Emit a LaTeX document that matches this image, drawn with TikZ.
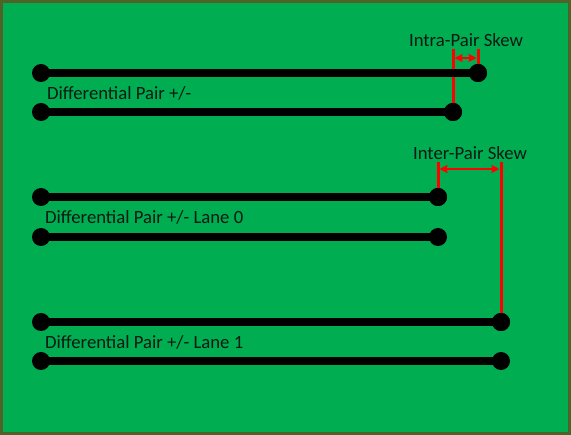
\documentclass[tikz,border=0pt]{standalone}
\usepackage{fontspec}
\setmainfont{Carlito}
\usetikzlibrary{arrows.meta}
\definecolor{pcb}{HTML}{00AD50}
\definecolor{pcbedge}{HTML}{4F6228}
\definecolor{txt}{HTML}{0A1A14}
\begin{document}
\begin{tikzpicture}[x=1pt,y=-1pt,
  pad/.style={circle,fill=black,minimum size=18pt,inner sep=0pt},
  trace/.style={line width=7.5pt,black},
  skew/.style={line width=3pt,red},
  skewarrow/.style={line width=2pt,red,shorten <=1.5pt,shorten >=1.5pt,
    {Stealth[length=8pt,width=8pt,inset=1pt]}-{Stealth[length=8pt,width=8pt,inset=1pt]}},
  lbl/.style={font=\fontsize{18.7}{20}\selectfont,text=txt,inner sep=0pt}]
\fill[pcbedge] (0,0) rectangle (571,435);
\fill[pcb] (3,3) rectangle (568,432);
\useasboundingbox (0,0) rectangle (571,435);

% intra-pair skew markers
\coordinate (c1) at (453,49);
\coordinate (c2) at (478,49);
\coordinate (a1) at (453,58);
\coordinate (a2) at (478,58);
% inter-pair skew markers
\coordinate (c3) at (438,162);
\coordinate (c4) at (501,162);
\coordinate (a3) at (438,169);
\coordinate (a4) at (501,169);

% pads
\node[pad] (p1s) at (41,73) {};
\node[pad] (p1e) at (478,73) {};
\node[pad] (p2s) at (41,112) {};
\node[pad] (p2e) at (453,112) {};
\node[pad] (l0as) at (41,197) {};
\node[pad] (l0ae) at (438,197) {};
\node[pad] (l0bs) at (41,237) {};
\node[pad] (l0be) at (438,237) {};
\node[pad] (l1as) at (41,322) {};
\node[pad] (l1ae) at (501,322) {};
\node[pad] (l1bs) at (41,361) {};
\node[pad] (l1be) at (501,361) {};

% red skew lines
\draw[skew] (c1) -- (p2e.center);
\draw[skew] (c2) -- (p1e.center);
\draw[skew] (c3) -- (l0ae.center);
\draw[skew] (c4) -- (l1ae.center);
\draw[skewarrow] (a1) -- (a2);
\draw[skewarrow] (a3) -- (a4);

% traces
\draw[trace] (p1s.center) -- (p1e.center);
\draw[trace] (p2s.center) -- (p2e.center);
\draw[trace] (l0as.center) -- (l0ae.center);
\draw[trace] (l0bs.center) -- (l0be.center);
\draw[trace] (l1as.center) -- (l1ae.center);
\draw[trace] (l1bs.center) -- (l1be.center);

% pads drawn over the red lines
\foreach \n in {p1e,p2e,l0ae,l1ae}
  \fill[black] (\n.center) circle (9pt);

% labels
\node[lbl] (tintra) at (466,40) {Intra-Pair Skew};
\node[lbl] (tinter) at (470,153) {Inter-Pair Skew};
\node[lbl,anchor=west] (tdp) at (47,93) {Differential Pair +/-};
\node[lbl,anchor=west] (tl0) at (45,217) {Differential Pair +/- Lane 0};
\node[lbl,anchor=west] (tl1) at (45,342) {Differential Pair +/- Lane 1};
\end{tikzpicture}
\end{document}
